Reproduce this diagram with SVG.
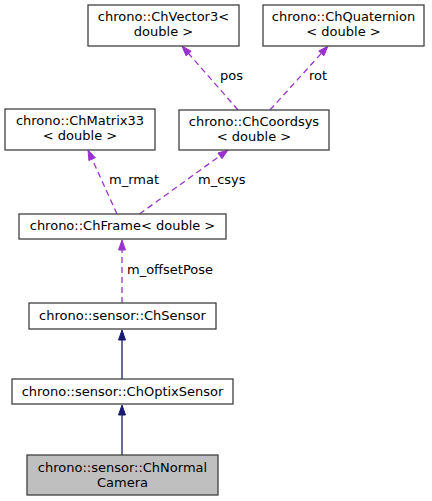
<svg xmlns="http://www.w3.org/2000/svg" width="432" height="501" viewBox="0 0 432 501">
<style>
text{font-family:"DejaVu Sans",sans-serif;font-size:13px;fill:#000;text-anchor:middle}
.box{fill:#fff;stroke:#404040;stroke-width:1.3}
.cur{fill:#bfbfbf;stroke:#404040;stroke-width:1.3}
.use{fill:none;stroke:#9a32cd;stroke-width:1.3;stroke-dasharray:6,4}
.useh{fill:#9a32cd;stroke:#9a32cd}
.inh{fill:none;stroke:#191970;stroke-width:1.3}
.inhh{fill:#191970;stroke:#191970}
.lbl{text-anchor:start}
</style>
<rect width="432" height="501" fill="#fff"/>
<g id="edges">
<path class="use" d="M238,110 L188.6,53.5"/>
<polygon class="useh" points="182,46 191.2,51.2 186,55.8"/>
<text class="lbl" x="220" y="80">pos</text>
<path class="use" d="M270,110 L321.3,53.4"/>
<polygon class="useh" points="328,46 323.9,55.8 318.7,51.1"/>
<text class="lbl" x="309" y="80">rot</text>
<path class="use" d="M117,214 L92.1,159.1"/>
<polygon class="useh" points="88,150 95.3,157.7 88.9,160.5"/>
<text class="lbl" x="109" y="184">m_rmat</text>
<path class="use" d="M139.5,214 L219.9,155.9"/>
<polygon class="useh" points="228,150 222,158.7 217.9,153"/>
<text class="lbl" x="198" y="184">m_csys</text>
<path class="use" d="M122,303 L122,250"/>
<polygon class="useh" points="122,240 125.5,250 118.5,250"/>
<text class="lbl" x="127" y="274">m_offsetPose</text>
<path class="inh" d="M122,379 L122,340"/>
<polygon class="inhh" points="122,330 125.5,340 118.5,340"/>
<path class="inh" d="M122,455 L122,415"/>
<polygon class="inhh" points="122,405 125.5,415 118.5,415"/>
</g>
<g id="ChVector3">
<rect class="box" x="88" y="5" width="151" height="41"/>
<text x="163.5" y="21">chrono::ChVector3&lt;</text>
<text x="163.5" y="36">double &gt;</text>
</g>
<g id="ChQuaternion">
<rect class="box" x="263" y="5" width="161" height="41"/>
<text x="343.5" y="21">chrono::ChQuaternion</text>
<text x="343.5" y="36">&lt; double &gt;</text>
</g>
<g id="ChCoordsys">
<rect class="box" x="179" y="110" width="150" height="40"/>
<text x="254" y="126">chrono::ChCoordsys</text>
<text x="254" y="141">&lt; double &gt;</text>
</g>
<g id="ChMatrix33">
<rect class="box" x="5" y="109" width="150" height="41"/>
<text x="80" y="125">chrono::ChMatrix33</text>
<text x="80" y="140">&lt; double &gt;</text>
</g>
<g id="ChFrame">
<rect class="box" x="19" y="214" width="207" height="25"/>
<text x="122.5" y="230">chrono::ChFrame&lt; double &gt;</text>
</g>
<g id="ChSensor">
<rect class="box" x="29" y="303" width="187" height="26"/>
<text x="122.5" y="320">chrono::sensor::ChSensor</text>
</g>
<g id="ChOptixSensor">
<rect class="box" x="12" y="379" width="221" height="25"/>
<text x="122.5" y="396">chrono::sensor::ChOptixSensor</text>
</g>
<g id="ChNormalCamera">
<rect class="cur" x="27" y="455" width="191" height="40"/>
<text x="122.5" y="472">chrono::sensor::ChNormal</text>
<text x="122.5" y="487">Camera</text>
</g>
</svg>
